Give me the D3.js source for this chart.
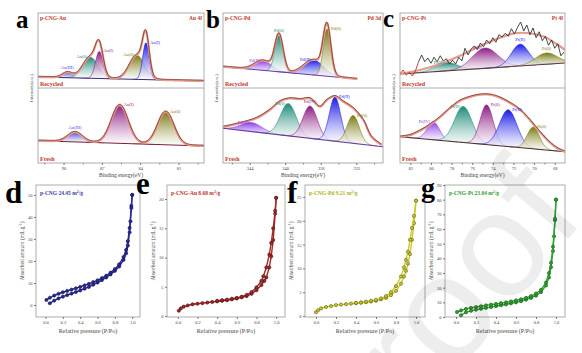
<!DOCTYPE html>
<html>
<head>
<meta charset="utf-8">
<script src="https://cdn.jsdelivr.net/npm/d3@7"></script>
<style>
  body { margin: 0; background: #fff; }
  svg text { font-family: "Liberation Serif", "DejaVu Serif", serif; }
</style>
</head>
<body>
<svg id="fig" width="582" height="353"></svg>
<script>
// ---------- XPS data (peaks: [label, centre eV, height, fwhm]) ----------
// a  Au 4f
const auTicks = [90, 87, 84, 81]
const auRecBase = [14.7, 9.3]
const auRecPeaks = [["Au(III)", 89.7, 7, 0.9], ["Au(0)", 87.9, 28, 1.4], ["Au(I)", 87.2, 36, 0.7], ["Au(0)", 84.25, 32, 1.4], ["Au(I)", 83.55, 49, 0.6]]
const auFreshBase = [29.7, 22.7]
const auFreshPeaks = [["Au(III)", 89.1, 13, 1.35], ["Au(I)", 85.6, 51, 1.55], ["Au(0)", 82.0, 44, 1.5]]

// b  Pd 3d
const pdTicks = [344, 340, 336, 332]
const pdRecBase = [28.4, 12]
const pdRecPeaks = [["Pd(II)", 342.5, 13, 2.2], ["Pd(0)", 340.7, 49, 1.1], ["Pd(II)", 336.8, 20, 2.6], ["Pd(0)", 335.3, 63, 1.0]]
const pdFreshBase = [46.3, 21.7]
const pdFreshPeaks = [["Pd(II)", 343.8, 12, 2.8], ["Pd(0)", 339.65, 43, 2.1], ["Pd(IV)", 337.2, 43, 1.9], ["Pd(II)", 334.4, 59, 1.5], ["Pd(0)", 332.35, 37, 1.6]]
const pdFreshFit = [[347, 48], [345.1, 53], [343.2, 60], [341.7, 71], [340.6, 82], [339.5, 86], [338.3, 85], [337.2, 86], [336.1, 75], [335.3, 84], [334.4, 89], [333.5, 82], [332.35, 73], [331.2, 57], [330.3, 35], [329.15, 24]]

// c  Pt 4f
const ptTicks = [82, 80, 78, 76, 74, 72, 70, 68]
const ptRecBase = [18.7, 33.3]
const ptRecPeaks = [["Pt(II)", 78.5, 11, 2.5], ["Pt(0)", 74.75, 27, 2.9], ["Pt(II)", 71.36, 29, 2.0], ["Pt(0)", 68.8, 15, 2.5]]
const ptRecFit = [[83, 19], [81.06, 24], [79.12, 32], [77.18, 43], [75.24, 56], [73.3, 67], [71.85, 73], [70.4, 73], [68.94, 68], [67.97, 60], [67, 51]]
const ptRecData = [19, 24, 17, 21, 16, 23, 35, 44, 35, 40, 33, 41, 35, 43, 36, 39, 32, 37, 32, 41, 36, 53, 44, 52, 56, 51, 60, 55, 64, 59, 67, 61, 71, 68, 73, 69, 79, 72, 81, 88, 76, 84, 71, 80, 67, 75, 63, 69, 57, 64, 53, 59, 43, 48]
const ptFreshBase = [35, 15]
const ptFreshPeaks = [["Pt(IV)", 79.77, 24, 1.4], ["Pt(II)", 76.86, 48, 2.0], ["Pt(0)", 74.6, 53, 1.5], ["Pt(II)", 72.5, 49, 2.0], ["Pt(0)", 70.07, 29, 1.4]]
const ptFreshFit = [[83, 35], [82.03, 37], [81.06, 43], [80.09, 51], [79.12, 61], [78.15, 73], [77.18, 83], [76.21, 88], [75.24, 91], [74.27, 91], [73.3, 87], [72.33, 80], [71.36, 71], [70.39, 57], [69.42, 41], [68.45, 27], [67.68, 19], [67, 15]]

// ---------- N2 isotherm data ([P/Po, amount]) ----------
const pressTicks = [0, 0.2, 0.4, 0.6, 0.8, 1.0]
const dAds = [[0.05,0.8],[0.1,2.0],[0.15,3.0],[0.2,3.8],[0.25,4.5],[0.3,5.2],[0.35,5.9],[0.4,6.6],[0.45,7.4],[0.5,8.2],[0.55,9.2],[0.6,10.2],[0.65,11.3],[0.7,12.5],[0.75,13.9],[0.8,15.5],[0.85,17.5],[0.9,20.5],[0.93,23.5],[0.95,27],[0.97,33],[0.98,38],[0.99,44],[1.0,50]]
const dDes = [[1.0,50],[0.99,45],[0.97,35],[0.95,29],[0.93,25],[0.9,21.8],[0.85,18.5],[0.8,16.3],[0.75,14.7],[0.7,13.3],[0.65,12.2],[0.6,11.2],[0.55,10.4],[0.5,9.6],[0.45,8.9],[0.4,8.2],[0.35,7.6],[0.3,7.0],[0.25,6.4],[0.2,5.8],[0.15,5.1],[0.1,4.3],[0.05,3.3],[0.01,2.3]]
const eAds = [[0.01,0.9],[0.03,1.3],[0.06,1.6],[0.1,1.8],[0.15,2.0],[0.2,2.1],[0.25,2.2],[0.3,2.3],[0.35,2.4],[0.4,2.5],[0.45,2.6],[0.5,2.7],[0.55,2.85],[0.6,3.0],[0.65,3.2],[0.7,3.4],[0.75,3.8],[0.8,4.4],[0.85,5.3],[0.88,6.0],[0.9,6.6],[0.93,8.3],[0.95,10.2],[0.97,13],[0.99,17.5],[1.0,20.2]]
const eDes = [[1.0,20.2],[0.99,18],[0.97,15],[0.95,12.5],[0.93,10.5],[0.9,8.3],[0.87,6.8],[0.85,6.0],[0.8,4.9],[0.75,4.1],[0.7,3.6],[0.65,3.3],[0.6,3.1],[0.55,2.95],[0.5,2.8],[0.45,2.7],[0.4,2.6]]
const fAds = [[0.0,0.8],[0.02,1.2],[0.05,1.6],[0.1,1.9],[0.15,2.1],[0.2,2.3],[0.25,2.4],[0.3,2.5],[0.35,2.6],[0.4,2.7],[0.45,2.8],[0.5,2.9],[0.55,3.05],[0.6,3.2],[0.65,3.5],[0.7,3.8],[0.75,4.4],[0.8,5.3],[0.85,6.8],[0.88,8.3],[0.9,9.5],[0.92,11],[0.94,13],[0.96,16],[0.98,19.5],[1.0,24.2]]
const fDes = [[1.0,24.2],[0.98,21],[0.96,18.5],[0.94,16],[0.92,13.5],[0.9,11.8],[0.88,10.2],[0.85,8.3],[0.8,6.3],[0.75,5.0],[0.7,4.2],[0.65,3.7],[0.6,3.4],[0.55,3.2],[0.5,3.0],[0.45,2.85],[0.4,2.75]]
const gAds = [[0.05,1.2],[0.1,3.2],[0.15,4.2],[0.2,5.0],[0.25,5.6],[0.3,6.2],[0.35,6.8],[0.4,7.4],[0.45,8.0],[0.5,8.6],[0.55,9.3],[0.6,10],[0.65,10.8],[0.7,11.8],[0.75,13],[0.8,14.5],[0.85,17],[0.9,21.5],[0.93,27],[0.95,34],[0.97,45],[0.98,55],[0.99,66],[1.0,80]]
const gDes = [[1.0,80],[0.99,67],[0.97,48],[0.95,37],[0.93,30],[0.9,23.5],[0.85,18.5],[0.8,16],[0.75,14.3],[0.7,13],[0.65,12.1],[0.6,11.3],[0.55,10.6],[0.5,10],[0.45,9.4],[0.4,8.9],[0.35,8.4],[0.3,7.9],[0.25,7.3],[0.2,6.8],[0.15,6.2],[0.1,5.5],[0.05,4.5],[0.01,3.4]]

// ---------- styles ----------
const peakColors = { blue: "#1c1ce6", teal: "#1f8a78", purple: "#8c1c84", olive: "#7a7a12", violet: "#8a3ae6", indigo: "#4848d6" }
const red = "#c0392b"

const svg = d3.select("#fig")
const defs = svg.append("defs")
Object.entries(peakColors).forEach(([k, c]) => {
    const lg = defs.append("linearGradient").attr("id", "grad-" + k)
        .attr("x1", 0).attr("y1", 0).attr("x2", 0).attr("y2", 1)
    lg.append("stop").attr("offset", "0%").attr("stop-color", c)
    lg.append("stop").attr("offset", "100%").attr("stop-color", "#fff").attr("stop-opacity", 0.7)
})

const gauss = (e, p) => p[2] * Math.exp(-4 * Math.LN2 * (e - p[1]) ** 2 / (p[3] * p[3]))
let clipId = 0

function drawHalf(g, x, y, s, yTop, yBot) {
    const id = "clip" + (clipId++)
    defs.append("clipPath").attr("id", id).append("rect")
        .attr("x", x.range()[0]).attr("y", yTop).attr("width", x.range()[1] - x.range()[0]).attr("height", yBot - yTop)
    const h = g.append("g").attr("clip-path", `url(#${id})`)
    const [e0, e1] = s.range
    const base = e => s.base[0] + (s.base[1] - s.base[0]) * (e0 - e) / (e0 - e1)
    const es = d3.range(e0, e1, -0.05).concat([e1])

    s.peaks.forEach((p, i) => {
        const col = s.colors[i]
        const pe = es.filter(e => Math.abs(e - p[1]) < p[3] * 1.7)
        h.append("path").datum(pe)
            .attr("d", d3.area().x(e => x(e)).y0(e => y(base(e))).y1(e => y(base(e) + gauss(e, p))))
            .attr("fill", `url(#grad-${col})`)
        h.append("path").datum(pe)
            .attr("d", d3.line().x(e => x(e)).y(e => y(base(e) + gauss(e, p))))
            .attr("fill", "none").attr("stroke", peakColors[col]).attr("stroke-width", 0.6)
    })
    // baseline
    h.append("path").datum([e0, e1])
        .attr("d", d3.line().x(e => x(e)).y(e => y(base(e))))
        .attr("stroke", s.baseColor).attr("stroke-width", 1.1)

    // fit envelope
    const fit = s.fit || es.map(e => [e, base(e) + d3.sum(s.peaks, p => gauss(e, p))])
    const fitLine = d3.line().x(d => x(d[0])).y(d => y(d[1])).curve(d3.curveCatmullRom)
    h.append("path").datum(fit).attr("d", fitLine)
        .attr("fill", "none").attr("stroke", "#e49a8c").attr("stroke-width", 2.2)
    if (s.data) {
        const pts = s.data.map((v, i) => [e0 - i * 0.3, v])
        h.append("path").datum(pts.slice(0, 7)).attr("d", d3.line().x(d => x(d[0])).y(d => y(d[1])))
            .attr("fill", "none").attr("stroke", "#c0302a").attr("stroke-width", 0.9)
        h.append("path").datum(pts.slice(6)).attr("d", d3.line().x(d => x(d[0])).y(d => y(d[1])))
            .attr("fill", "none").attr("stroke", "#333").attr("stroke-width", 0.9)
    } else {
        h.append("path").datum(fit).attr("d", fitLine).attr("transform", "translate(0,-0.8)")
            .attr("fill", "none").attr("stroke", "#6e2218").attr("stroke-width", 0.7)
    }
    // peak labels
    s.peaks.forEach((p, i) => {
        const px = x(p[1]), py = y(base(p[1]) + p[2])
        const side = s.sides[i]
        g.append("text")
            .attr("x", side === "l" ? px - 3 : side === "r" ? px + 4 : px)
            .attr("y", side === "c" ? py - 3 : py + 1)
            .attr("text-anchor", side === "l" ? "end" : side === "r" ? "start" : "middle")
            .attr("font-size", 4.5).attr("fill", peakColors[s.colors[i]])
            .text(p[0])
    })
}

function xpsPanel(c) {
    const top = 13, mid = 88, bot = 163
    const x = d3.scaleLinear().domain(c.domain).range([c.x0, c.x1])
    const g = svg.append("g")
    drawHalf(g, x, d3.scaleLinear().domain([0, 100]).range([mid, top]), c.rec, top, mid)
    drawHalf(g, x, d3.scaleLinear().domain([0, 100]).range([bot, mid]), c.fresh, mid, bot)

    g.append("rect").attr("x", c.x0).attr("y", top).attr("width", c.x1 - c.x0).attr("height", bot - top)
        .attr("fill", "none").attr("stroke", "#9a9a9a").attr("stroke-width", 0.8)
    g.append("line").attr("x1", c.x0).attr("x2", c.x1).attr("y1", mid).attr("y2", mid)
        .attr("stroke", "#9a9a9a").attr("stroke-width", 0.8)

    const ax = g.append("g").attr("transform", `translate(0,${bot})`)
        .call(d3.axisBottom(x).tickValues(c.ticks).tickSize(2).tickPadding(1.5).tickFormat(d3.format("d")))
    ax.select(".domain").remove()
    ax.selectAll("line").attr("stroke", "#777")
    ax.selectAll("text").attr("font-size", 4.5).attr("fill", "#444")
    const mx = g.append("g").attr("transform", `translate(0,${bot})`)
        .call(d3.axisBottom(x).tickValues(c.minor).tickSize(1.3).tickFormat(""))
    mx.select(".domain").remove()
    mx.selectAll("text").remove()
    mx.selectAll("line").attr("stroke", "#777")

    g.append("text").attr("x", (c.x0 + c.x1) / 2).attr("y", 177).attr("text-anchor", "middle")
        .attr("font-size", 5.5).attr("fill", "#444").text("Binding energy(eV)")
    g.append("text").attr("transform", `translate(${c.x0 - 5},${(top + bot) / 2}) rotate(-90)`)
        .attr("text-anchor", "middle").attr("font-size", 5).attr("fill", "#444").text("Intensity(a.u.)")
    g.append("text").attr("x", c.x0 + 2).attr("y", top + 7).attr("font-size", 5.5).attr("font-weight", "bold")
        .attr("fill", red).text(c.title)
    g.append("text").attr("x", c.x1 - 2).attr("y", top + 7).attr("text-anchor", "end").attr("font-size", 5.5)
        .attr("font-weight", "bold").attr("fill", red).text(c.orbital)
    g.append("text").attr("x", c.x0 + 2).attr("y", mid - 2.5).attr("font-size", 6).attr("font-weight", "bold")
        .attr("fill", red).text("Recycled")
    g.append("text").attr("x", c.x0 + 2).attr("y", bot - 2.5).attr("font-size", 6).attr("font-weight", "bold")
        .attr("fill", red).text("Fresh")
    svg.append("text").attr("x", c.lx).attr("y", c.ly).attr("font-size", 25).attr("font-weight", "bold")
        .text(c.letter)
}

xpsPanel({
    x0: 38, x1: 204, domain: [92, 79], ticks: auTicks, minor: [88.5, 85.5, 82.5, 79.5, 91.5],
    title: "p-CNG-Au", orbital: "Au 4f", letter: "a", lx: 16, ly: 28,
    rec: { base: auRecBase, range: [92, 79], peaks: auRecPeaks, colors: ["indigo", "teal", "purple", "olive", "blue"],
           sides: ["c", "l", "r", "l", "r"], baseColor: "#3a2a7a" },
    fresh: { base: auFreshBase, range: [92, 79], peaks: auFreshPeaks, colors: ["indigo", "purple", "olive"],
             sides: ["c", "r", "r"], baseColor: "#7a2030" }
})
xpsPanel({
    x0: 223, x1: 383, domain: [347, 329], ticks: pdTicks, minor: [346, 342, 338, 334, 330],
    title: "p-CNG-Pd", orbital: "Pd 3d", letter: "b", lx: 206, ly: 28,
    rec: { base: pdRecBase, range: [347, 331.9], peaks: pdRecPeaks, colors: ["violet", "teal", "blue", "olive"],
           sides: ["l", "c", "l", "r"], baseColor: "#6a3aa0" },
    fresh: { base: pdFreshBase, range: [347, 329], peaks: pdFreshPeaks, colors: ["violet", "teal", "purple", "blue", "olive"],
             sides: ["l", "l", "c", "r", "r"], baseColor: "#6a3aa0", fit: pdFreshFit }
})
xpsPanel({
    x0: 400, x1: 565, domain: [83, 67], ticks: ptTicks, minor: [81, 79, 77, 75, 73, 71, 69],
    title: "p-CNG-Pt", orbital: "Pt 4f", letter: "c", lx: 383, ly: 27,
    rec: { base: ptRecBase, range: [83, 67], peaks: ptRecPeaks, colors: ["teal", "purple", "blue", "olive"],
           sides: ["l", "l", "c", "c"], baseColor: "#5a3a3a", fit: ptRecFit, data: ptRecData },
    fresh: { base: ptFreshBase, range: [83, 67], peaks: ptFreshPeaks, colors: ["violet", "teal", "purple", "blue", "olive"],
             sides: ["l", "l", "r", "r", "r"], baseColor: "#4a2a2a", fit: ptFreshFit }
})

// ---------- isotherm panels ----------
function isoPanel(c) {
    const top = 185, bot = 317
    const x = d3.scaleLinear().domain([-0.11, 1.09]).range([c.x0, c.x1])
    const y = d3.scaleLinear().domain(c.yDomain).range([bot, top])
    const g = svg.append("g")
    g.append("rect").attr("x", c.x0).attr("y", top).attr("width", c.x1 - c.x0).attr("height", bot - top)
        .attr("fill", "none").attr("stroke", "#9a9a9a").attr("stroke-width", 0.8)

    const ax = g.append("g").attr("transform", `translate(0,${bot})`)
        .call(d3.axisBottom(x).tickValues(pressTicks).tickSize(2).tickPadding(2).tickFormat(d3.format(".1f")))
    const ay = g.append("g").attr("transform", `translate(${c.x0},0)`)
        .call(d3.axisLeft(y).tickValues(c.yTicks).tickSize(2).tickPadding(1.5))
    ;[ax, ay].forEach(a => {
        a.select(".domain").remove()
        a.selectAll("line").attr("stroke", "#777")
        a.selectAll("text").attr("font-size", 4.5).attr("fill", "#444")
    })

    const line = d3.line().x(d => x(d[0])).y(d => y(d[1]))
    ;[c.ads, c.des].forEach(s => {
        g.append("path").datum(s).attr("d", line).attr("fill", "none")
            .attr("stroke", c.color).attr("stroke-width", 1.4)
        g.append("g").selectAll("circle").data(s).join("circle")
            .attr("cx", d => x(d[0])).attr("cy", d => y(d[1])).attr("r", 1.6)
            .attr("fill", c.color).attr("stroke", c.dark).attr("stroke-width", 0.6)
    })

    const t = g.append("text").attr("x", c.x0 + 4).attr("y", top + 10).attr("font-size", 5.5)
        .attr("font-weight", "bold").attr("fill", c.titleColor)
    t.append("tspan").text(c.title + " m")
    t.append("tspan").attr("dy", -2).attr("font-size", 4).text("2")
    t.append("tspan").attr("dy", 2).text("/g")

    g.append("text").attr("x", (c.x0 + c.x1) / 2).attr("y", 333).attr("text-anchor", "middle")
        .attr("font-size", 6).attr("fill", "#444").text("Relative pressure (P/Po)")
    const yl = g.append("text").attr("transform", `translate(${c.x0 - 12},${(top + bot) / 2}) rotate(-90)`)
        .attr("text-anchor", "middle").attr("font-size", 5.5).attr("fill", "#444")
    yl.append("tspan").text("Absorbed amount (mL g")
    yl.append("tspan").attr("dy", -2).attr("font-size", 4).text("-1")
    yl.append("tspan").attr("dy", 2).text(")")

    svg.append("text").attr("x", c.lx).attr("y", c.ly).attr("font-size", c.fs || 31).attr("font-weight", "bold")
        .text(c.letter)
}

isoPanel({ x0: 36, x1: 140, yDomain: [-5.45, 54.5], yTicks: [0, 10, 20, 30, 40, 50], ads: dAds, des: dDes,
    color: "#2a2a98", dark: "#12124a", titleColor: "#3a3aa8", title: "p-CNG  24.45", letter: "d", lx: 5, ly: 203 })
isoPanel({ x0: 167, x1: 285, yDomain: [-0.17, 22.4], yTicks: [0, 5, 10, 15, 20], ads: eAds, des: eDes,
    color: "#a42828", dark: "#4a0e0e", titleColor: "#c03030", title: "p-CNG-Au  8.68", letter: "e", lx: 136, ly: 194 })
isoPanel({ x0: 305, x1: 425, yDomain: [-0.2, 27.5], yTicks: [0, 5, 10, 15, 20, 25], ads: fAds, des: fDes,
    color: "#c8c830", dark: "#5e5e0e", titleColor: "#b0b020", title: "p-CNG-Pd  9.21", letter: "f", lx: 287, ly: 203 })
isoPanel({ x0: 445, x1: 565, yDomain: [0, 90], yTicks: [0, 10, 20, 30, 40, 50, 60, 70, 80, 90], ads: gAds, des: gDes,
    color: "#34a034", dark: "#0e5a0e", titleColor: "#2e9a2e", title: "p-CNG-Pt  23.04", letter: "g", lx: 421, ly: 197, fs: 28 })

// faint pre-proof watermark
svg.append("text").attr("transform", "translate(367,479) rotate(-50)")
    .style("font-family", "'Liberation Sans', Arial, sans-serif").attr("font-size", 150)
    .attr("fill", "#000").attr("fill-opacity", 0.07).text("proof")
</script>
</body>
</html>
